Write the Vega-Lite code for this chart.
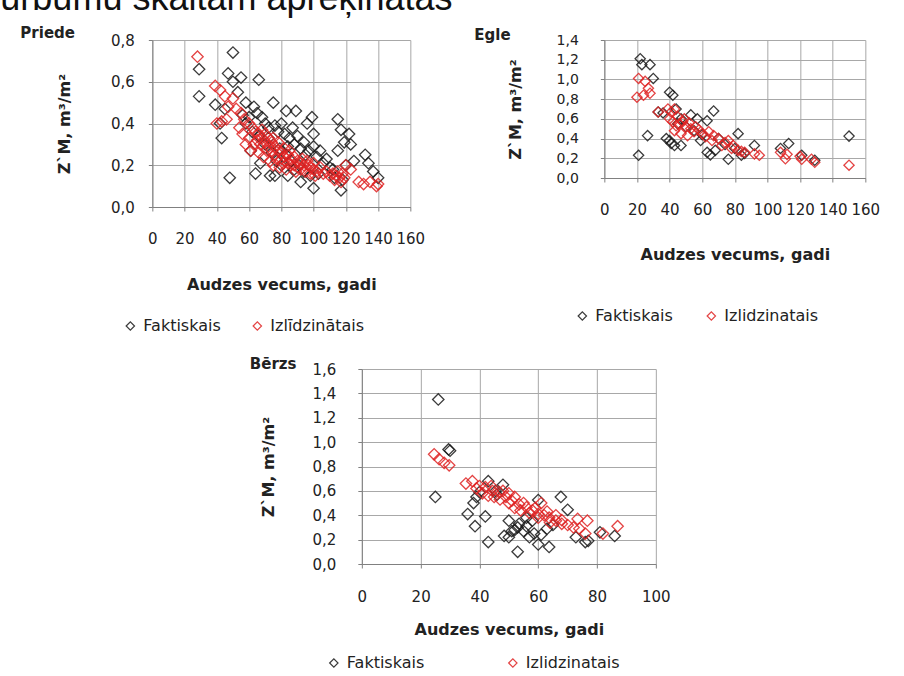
{
  "$schema": "https://vega.github.io/schema/vega-lite/v6.json",
  "background": "white",
  "padding": {"left": 0, "top": -19, "right": 0, "bottom": 0},
  "title": {
    "text": "urbumu skaitam aprēķinātās",
    "anchor": "start",
    "frame": "bounds",
    "dx": -20,
    "offset": -20,
    "baseline": "alphabetic",
    "font": "Liberation Sans",
    "fontSize": 36,
    "fontWeight": "normal",
    "color": "#111"
  },
  "config": {
    "font": "DejaVu Sans",
    "view": {"stroke": null},
    "axis": {
      "domainColor": "#808080",
      "tickColor": "#808080",
      "gridColor": "#a8a8a8",
      "gridWidth": 1,
      "tickSize": 4,
      "labelFont": "DejaVu Sans",
      "labelFontSize": 15,
      "labelColor": "#222",
      "labelFlush": false,
      "labelOverlap": false,
      "titleFont": "DejaVu Sans",
      "titleFontSize": 16,
      "titleFontWeight": "bold",
      "titleColor": "#222"
    },
    "legend": {
      "orient": "none",
      "direction": "horizontal",
      "labelFont": "DejaVu Sans",
      "labelFontSize": 16,
      "labelColor": "#222",
      "labelOffset": 5,
      "symbolType": "diamond",
      "symbolSize": 70,
      "symbolStrokeWidth": 1.2
    },
    "title": {
      "font": "DejaVu Sans",
      "fontSize": 15,
      "fontWeight": "bold",
      "color": "#222",
      "anchor": "start",
      "frame": "group",
      "baseline": "alphabetic"
    }
  },
  "datasets": {
    "priede": [
      {"vecums": 29, "zm": 0.66, "veids": "Faktiskais"}, {"vecums": 29, "zm": 0.53, "veids": "Faktiskais"},
      {"vecums": 50, "zm": 0.74, "veids": "Faktiskais"}, {"vecums": 47, "zm": 0.64, "veids": "Faktiskais"},
      {"vecums": 50, "zm": 0.60, "veids": "Faktiskais"}, {"vecums": 55, "zm": 0.62, "veids": "Faktiskais"},
      {"vecums": 66, "zm": 0.61, "veids": "Faktiskais"}, {"vecums": 39, "zm": 0.49, "veids": "Faktiskais"},
      {"vecums": 42, "zm": 0.40, "veids": "Faktiskais"}, {"vecums": 43, "zm": 0.33, "veids": "Faktiskais"},
      {"vecums": 48, "zm": 0.14, "veids": "Faktiskais"}, {"vecums": 58, "zm": 0.50, "veids": "Faktiskais"},
      {"vecums": 63, "zm": 0.48, "veids": "Faktiskais"}, {"vecums": 75, "zm": 0.50, "veids": "Faktiskais"},
      {"vecums": 83, "zm": 0.46, "veids": "Faktiskais"}, {"vecums": 89, "zm": 0.46, "veids": "Faktiskais"},
      {"vecums": 99, "zm": 0.43, "veids": "Faktiskais"}, {"vecums": 96, "zm": 0.40, "veids": "Faktiskais"},
      {"vecums": 115, "zm": 0.42, "veids": "Faktiskais"}, {"vecums": 117, "zm": 0.37, "veids": "Faktiskais"},
      {"vecums": 122, "zm": 0.35, "veids": "Faktiskais"}, {"vecums": 100, "zm": 0.35, "veids": "Faktiskais"},
      {"vecums": 119, "zm": 0.31, "veids": "Faktiskais"}, {"vecums": 123, "zm": 0.30, "veids": "Faktiskais"},
      {"vecums": 115, "zm": 0.27, "veids": "Faktiskais"}, {"vecums": 132, "zm": 0.25, "veids": "Faktiskais"},
      {"vecums": 134, "zm": 0.21, "veids": "Faktiskais"}, {"vecums": 137, "zm": 0.17, "veids": "Faktiskais"},
      {"vecums": 140, "zm": 0.14, "veids": "Faktiskais"}, {"vecums": 100, "zm": 0.09, "veids": "Faktiskais"},
      {"vecums": 117, "zm": 0.08, "veids": "Faktiskais"}, {"vecums": 84, "zm": 0.15, "veids": "Faktiskais"},
      {"vecums": 92, "zm": 0.12, "veids": "Faktiskais"}, {"vecums": 64, "zm": 0.16, "veids": "Faktiskais"},
      {"vecums": 67, "zm": 0.21, "veids": "Faktiskais"}, {"vecums": 73, "zm": 0.15, "veids": "Faktiskais"},
      {"vecums": 76, "zm": 0.15, "veids": "Faktiskais"}, {"vecums": 61, "zm": 0.27, "veids": "Faktiskais"},
      {"vecums": 65, "zm": 0.45, "veids": "Faktiskais"}, {"vecums": 68, "zm": 0.43, "veids": "Faktiskais"},
      {"vecums": 70, "zm": 0.40, "veids": "Faktiskais"}, {"vecums": 72, "zm": 0.38, "veids": "Faktiskais"},
      {"vecums": 76, "zm": 0.39, "veids": "Faktiskais"}, {"vecums": 78, "zm": 0.36, "veids": "Faktiskais"},
      {"vecums": 80, "zm": 0.40, "veids": "Faktiskais"}, {"vecums": 82, "zm": 0.35, "veids": "Faktiskais"},
      {"vecums": 85, "zm": 0.33, "veids": "Faktiskais"}, {"vecums": 87, "zm": 0.38, "veids": "Faktiskais"},
      {"vecums": 88, "zm": 0.30, "veids": "Faktiskais"}, {"vecums": 90, "zm": 0.34, "veids": "Faktiskais"},
      {"vecums": 92, "zm": 0.28, "veids": "Faktiskais"}, {"vecums": 94, "zm": 0.31, "veids": "Faktiskais"},
      {"vecums": 95, "zm": 0.25, "veids": "Faktiskais"}, {"vecums": 97, "zm": 0.27, "veids": "Faktiskais"},
      {"vecums": 100, "zm": 0.29, "veids": "Faktiskais"}, {"vecums": 102, "zm": 0.24, "veids": "Faktiskais"},
      {"vecums": 104, "zm": 0.27, "veids": "Faktiskais"}, {"vecums": 106, "zm": 0.21, "veids": "Faktiskais"},
      {"vecums": 108, "zm": 0.23, "veids": "Faktiskais"}, {"vecums": 110, "zm": 0.19, "veids": "Faktiskais"},
      {"vecums": 112, "zm": 0.18, "veids": "Faktiskais"}, {"vecums": 70, "zm": 0.30, "veids": "Faktiskais"},
      {"vecums": 74, "zm": 0.26, "veids": "Faktiskais"}, {"vecums": 77, "zm": 0.22, "veids": "Faktiskais"},
      {"vecums": 80, "zm": 0.20, "veids": "Faktiskais"}, {"vecums": 83, "zm": 0.25, "veids": "Faktiskais"},
      {"vecums": 86, "zm": 0.22, "veids": "Faktiskais"}, {"vecums": 88, "zm": 0.18, "veids": "Faktiskais"},
      {"vecums": 91, "zm": 0.20, "veids": "Faktiskais"}, {"vecums": 94, "zm": 0.17, "veids": "Faktiskais"},
      {"vecums": 98, "zm": 0.15, "veids": "Faktiskais"}, {"vecums": 103, "zm": 0.16, "veids": "Faktiskais"},
      {"vecums": 66, "zm": 0.34, "veids": "Faktiskais"}, {"vecums": 62, "zm": 0.36, "veids": "Faktiskais"},
      {"vecums": 58, "zm": 0.40, "veids": "Faktiskais"}, {"vecums": 56, "zm": 0.44, "veids": "Faktiskais"},
      {"vecums": 60, "zm": 0.43, "veids": "Faktiskais"}, {"vecums": 53, "zm": 0.55, "veids": "Faktiskais"},
      {"vecums": 45, "zm": 0.47, "veids": "Faktiskais"}, {"vecums": 72, "zm": 0.33, "veids": "Faktiskais"},
      {"vecums": 79, "zm": 0.28, "veids": "Faktiskais"}, {"vecums": 84, "zm": 0.29, "veids": "Faktiskais"},
      {"vecums": 113, "zm": 0.14, "veids": "Faktiskais"}, {"vecums": 118, "zm": 0.13, "veids": "Faktiskais"},
      {"vecums": 120, "zm": 0.20, "veids": "Faktiskais"}, {"vecums": 125, "zm": 0.22, "veids": "Faktiskais"},
      {"vecums": 28, "zm": 0.72, "veids": "Izlīdzinātais"}, {"vecums": 39, "zm": 0.58, "veids": "Izlīdzinātais"},
      {"vecums": 42, "zm": 0.56, "veids": "Izlīdzinātais"}, {"vecums": 45, "zm": 0.53, "veids": "Izlīdzinātais"},
      {"vecums": 40, "zm": 0.40, "veids": "Izlīdzinātais"}, {"vecums": 43, "zm": 0.41, "veids": "Izlīdzinātais"},
      {"vecums": 46, "zm": 0.42, "veids": "Izlīdzinātais"}, {"vecums": 47, "zm": 0.48, "veids": "Izlīdzinātais"},
      {"vecums": 50, "zm": 0.52, "veids": "Izlīdzinātais"}, {"vecums": 52, "zm": 0.47, "veids": "Izlīdzinātais"},
      {"vecums": 55, "zm": 0.45, "veids": "Izlīdzinātais"}, {"vecums": 57, "zm": 0.42, "veids": "Izlīdzinātais"},
      {"vecums": 60, "zm": 0.40, "veids": "Izlīdzinātais"}, {"vecums": 62, "zm": 0.38, "veids": "Izlīdzinātais"},
      {"vecums": 64, "zm": 0.36, "veids": "Izlīdzinātais"}, {"vecums": 66, "zm": 0.35, "veids": "Izlīdzinātais"},
      {"vecums": 61, "zm": 0.27, "veids": "Izlīdzinātais"}, {"vecums": 63, "zm": 0.30, "veids": "Izlīdzinātais"},
      {"vecums": 65, "zm": 0.32, "veids": "Izlīdzinātais"}, {"vecums": 67, "zm": 0.30, "veids": "Izlīdzinātais"},
      {"vecums": 68, "zm": 0.33, "veids": "Izlīdzinātais"}, {"vecums": 70, "zm": 0.31, "veids": "Izlīdzinātais"},
      {"vecums": 70, "zm": 0.35, "veids": "Izlīdzinātais"}, {"vecums": 72, "zm": 0.29, "veids": "Izlīdzinātais"},
      {"vecums": 72, "zm": 0.33, "veids": "Izlīdzinātais"}, {"vecums": 74, "zm": 0.31, "veids": "Izlīdzinātais"},
      {"vecums": 74, "zm": 0.27, "veids": "Izlīdzinātais"}, {"vecums": 76, "zm": 0.29, "veids": "Izlīdzinātais"},
      {"vecums": 76, "zm": 0.25, "veids": "Izlīdzinātais"}, {"vecums": 78, "zm": 0.27, "veids": "Izlīdzinātais"},
      {"vecums": 78, "zm": 0.31, "veids": "Izlīdzinātais"}, {"vecums": 80, "zm": 0.26, "veids": "Izlīdzinātais"},
      {"vecums": 80, "zm": 0.23, "veids": "Izlīdzinātais"}, {"vecums": 82, "zm": 0.28, "veids": "Izlīdzinātais"},
      {"vecums": 82, "zm": 0.24, "veids": "Izlīdzinātais"}, {"vecums": 84, "zm": 0.25, "veids": "Izlīdzinātais"},
      {"vecums": 84, "zm": 0.21, "veids": "Izlīdzinātais"}, {"vecums": 86, "zm": 0.23, "veids": "Izlīdzinātais"},
      {"vecums": 86, "zm": 0.20, "veids": "Izlīdzinātais"}, {"vecums": 88, "zm": 0.24, "veids": "Izlīdzinātais"},
      {"vecums": 88, "zm": 0.20, "veids": "Izlīdzinātais"}, {"vecums": 90, "zm": 0.22, "veids": "Izlīdzinātais"},
      {"vecums": 90, "zm": 0.19, "veids": "Izlīdzinātais"}, {"vecums": 92, "zm": 0.21, "veids": "Izlīdzinātais"},
      {"vecums": 92, "zm": 0.18, "veids": "Izlīdzinātais"}, {"vecums": 94, "zm": 0.20, "veids": "Izlīdzinātais"},
      {"vecums": 95, "zm": 0.17, "veids": "Izlīdzinātais"}, {"vecums": 96, "zm": 0.22, "veids": "Izlīdzinātais"},
      {"vecums": 98, "zm": 0.19, "veids": "Izlīdzinātais"}, {"vecums": 98, "zm": 0.16, "veids": "Izlīdzinātais"},
      {"vecums": 100, "zm": 0.18, "veids": "Izlīdzinātais"}, {"vecums": 100, "zm": 0.21, "veids": "Izlīdzinātais"},
      {"vecums": 102, "zm": 0.17, "veids": "Izlīdzinātais"}, {"vecums": 104, "zm": 0.19, "veids": "Izlīdzinātais"},
      {"vecums": 106, "zm": 0.16, "veids": "Izlīdzinātais"}, {"vecums": 108, "zm": 0.17, "veids": "Izlīdzinātais"},
      {"vecums": 110, "zm": 0.15, "veids": "Izlīdzinātais"}, {"vecums": 112, "zm": 0.16, "veids": "Izlīdzinātais"},
      {"vecums": 113, "zm": 0.13, "veids": "Izlīdzinātais"}, {"vecums": 114, "zm": 0.15, "veids": "Izlīdzinātais"},
      {"vecums": 115, "zm": 0.17, "veids": "Izlīdzinātais"}, {"vecums": 116, "zm": 0.14, "veids": "Izlīdzinātais"},
      {"vecums": 117, "zm": 0.12, "veids": "Izlīdzinātais"}, {"vecums": 118, "zm": 0.16, "veids": "Izlīdzinātais"},
      {"vecums": 119, "zm": 0.14, "veids": "Izlīdzinātais"}, {"vecums": 120, "zm": 0.20, "veids": "Izlīdzinātais"},
      {"vecums": 123, "zm": 0.18, "veids": "Izlīdzinātais"}, {"vecums": 128, "zm": 0.12, "veids": "Izlīdzinātais"},
      {"vecums": 131, "zm": 0.11, "veids": "Izlīdzinātais"}, {"vecums": 135, "zm": 0.12, "veids": "Izlīdzinātais"},
      {"vecums": 139, "zm": 0.10, "veids": "Izlīdzinātais"}, {"vecums": 140, "zm": 0.11, "veids": "Izlīdzinātais"},
      {"vecums": 58, "zm": 0.30, "veids": "Izlīdzinātais"}, {"vecums": 56, "zm": 0.35, "veids": "Izlīdzinātais"},
      {"vecums": 60, "zm": 0.33, "veids": "Izlīdzinātais"}, {"vecums": 54, "zm": 0.38, "veids": "Izlīdzinātais"},
      {"vecums": 66, "zm": 0.26, "veids": "Izlīdzinātais"}, {"vecums": 69, "zm": 0.24, "veids": "Izlīdzinātais"},
      {"vecums": 73, "zm": 0.22, "veids": "Izlīdzinātais"}, {"vecums": 75, "zm": 0.20, "veids": "Izlīdzinātais"},
      {"vecums": 79, "zm": 0.19, "veids": "Izlīdzinātais"}, {"vecums": 83, "zm": 0.18, "veids": "Izlīdzinātais"},
      {"vecums": 71, "zm": 0.27, "veids": "Izlīdzinātais"}, {"vecums": 77, "zm": 0.23, "veids": "Izlīdzinātais"},
      {"vecums": 81, "zm": 0.21, "veids": "Izlīdzinātais"}, {"vecums": 85, "zm": 0.27, "veids": "Izlīdzinātais"},
      {"vecums": 89, "zm": 0.17, "veids": "Izlīdzinātais"}, {"vecums": 93, "zm": 0.23, "veids": "Izlīdzinātais"},
      {"vecums": 97, "zm": 0.20, "veids": "Izlīdzinātais"}, {"vecums": 101, "zm": 0.15, "veids": "Izlīdzinātais"},
      {"vecums": 68, "zm": 0.37, "veids": "Izlīdzinātais"}, {"vecums": 75, "zm": 0.33, "veids": "Izlīdzinātais"}
    ],
    "egle": [
      {"vecums": 22, "zm": 1.21, "veids": "Faktiskais"}, {"vecums": 23, "zm": 1.15, "veids": "Faktiskais"},
      {"vecums": 28, "zm": 1.15, "veids": "Faktiskais"}, {"vecums": 30, "zm": 1.01, "veids": "Faktiskais"},
      {"vecums": 21, "zm": 0.23, "veids": "Faktiskais"}, {"vecums": 26.5, "zm": 0.43, "veids": "Faktiskais"},
      {"vecums": 40, "zm": 0.87, "veids": "Faktiskais"}, {"vecums": 42, "zm": 0.84, "veids": "Faktiskais"},
      {"vecums": 38, "zm": 0.40, "veids": "Faktiskais"}, {"vecums": 40, "zm": 0.38, "veids": "Faktiskais"},
      {"vecums": 41, "zm": 0.35, "veids": "Faktiskais"}, {"vecums": 43, "zm": 0.33, "veids": "Faktiskais"},
      {"vecums": 47, "zm": 0.33, "veids": "Faktiskais"}, {"vecums": 33, "zm": 0.67, "veids": "Faktiskais"},
      {"vecums": 47, "zm": 0.60, "veids": "Faktiskais"}, {"vecums": 53, "zm": 0.64, "veids": "Faktiskais"},
      {"vecums": 63, "zm": 0.58, "veids": "Faktiskais"}, {"vecums": 67, "zm": 0.68, "veids": "Faktiskais"},
      {"vecums": 59, "zm": 0.38, "veids": "Faktiskais"}, {"vecums": 63, "zm": 0.26, "veids": "Faktiskais"},
      {"vecums": 65, "zm": 0.235, "veids": "Faktiskais"}, {"vecums": 68, "zm": 0.28, "veids": "Faktiskais"},
      {"vecums": 76, "zm": 0.19, "veids": "Faktiskais"}, {"vecums": 82, "zm": 0.45, "veids": "Faktiskais"},
      {"vecums": 84, "zm": 0.23, "veids": "Faktiskais"}, {"vecums": 92, "zm": 0.33, "veids": "Faktiskais"},
      {"vecums": 108, "zm": 0.30, "veids": "Faktiskais"}, {"vecums": 113, "zm": 0.35, "veids": "Faktiskais"},
      {"vecums": 121, "zm": 0.23, "veids": "Faktiskais"}, {"vecums": 129, "zm": 0.18, "veids": "Faktiskais"},
      {"vecums": 150, "zm": 0.425, "veids": "Faktiskais"}, {"vecums": 45, "zm": 0.55, "veids": "Faktiskais"},
      {"vecums": 50, "zm": 0.52, "veids": "Faktiskais"}, {"vecums": 55, "zm": 0.48, "veids": "Faktiskais"},
      {"vecums": 44, "zm": 0.70, "veids": "Faktiskais"}, {"vecums": 36, "zm": 0.66, "veids": "Faktiskais"},
      {"vecums": 57, "zm": 0.60, "veids": "Faktiskais"}, {"vecums": 70, "zm": 0.40, "veids": "Faktiskais"},
      {"vecums": 80, "zm": 0.30, "veids": "Faktiskais"}, {"vecums": 86, "zm": 0.25, "veids": "Faktiskais"},
      {"vecums": 74, "zm": 0.34, "veids": "Faktiskais"}, {"vecums": 60, "zm": 0.44, "veids": "Faktiskais"},
      {"vecums": 20, "zm": 0.82, "veids": "Izlidzinatais"}, {"vecums": 21, "zm": 1.01, "veids": "Izlidzinatais"},
      {"vecums": 25, "zm": 0.98, "veids": "Izlidzinatais"}, {"vecums": 27, "zm": 0.91, "veids": "Izlidzinatais"},
      {"vecums": 28, "zm": 0.86, "veids": "Izlidzinatais"}, {"vecums": 24, "zm": 0.84, "veids": "Izlidzinatais"},
      {"vecums": 33, "zm": 0.67, "veids": "Izlidzinatais"}, {"vecums": 39, "zm": 0.70, "veids": "Izlidzinatais"},
      {"vecums": 41, "zm": 0.67, "veids": "Izlidzinatais"}, {"vecums": 43, "zm": 0.70, "veids": "Izlidzinatais"},
      {"vecums": 40, "zm": 0.60, "veids": "Izlidzinatais"}, {"vecums": 42, "zm": 0.57, "veids": "Izlidzinatais"},
      {"vecums": 44, "zm": 0.53, "veids": "Izlidzinatais"}, {"vecums": 46, "zm": 0.55, "veids": "Izlidzinatais"},
      {"vecums": 48, "zm": 0.57, "veids": "Izlidzinatais"}, {"vecums": 50, "zm": 0.52, "veids": "Izlidzinatais"},
      {"vecums": 53, "zm": 0.50, "veids": "Izlidzinatais"}, {"vecums": 55, "zm": 0.47, "veids": "Izlidzinatais"},
      {"vecums": 60, "zm": 0.45, "veids": "Izlidzinatais"}, {"vecums": 64, "zm": 0.47, "veids": "Izlidzinatais"},
      {"vecums": 67, "zm": 0.43, "veids": "Izlidzinatais"}, {"vecums": 70, "zm": 0.40, "veids": "Izlidzinatais"},
      {"vecums": 74, "zm": 0.36, "veids": "Izlidzinatais"}, {"vecums": 76, "zm": 0.38, "veids": "Izlidzinatais"},
      {"vecums": 79, "zm": 0.33, "veids": "Izlidzinatais"}, {"vecums": 82, "zm": 0.28, "veids": "Izlidzinatais"},
      {"vecums": 86, "zm": 0.26, "veids": "Izlidzinatais"}, {"vecums": 92, "zm": 0.245, "veids": "Izlidzinatais"},
      {"vecums": 108, "zm": 0.26, "veids": "Izlidzinatais"}, {"vecums": 111, "zm": 0.195, "veids": "Izlidzinatais"},
      {"vecums": 121, "zm": 0.19, "veids": "Izlidzinatais"}, {"vecums": 129, "zm": 0.16, "veids": "Izlidzinatais"},
      {"vecums": 150, "zm": 0.13, "veids": "Izlidzinatais"}, {"vecums": 43, "zm": 0.48, "veids": "Izlidzinatais"},
      {"vecums": 47, "zm": 0.45, "veids": "Izlidzinatais"}, {"vecums": 51, "zm": 0.43, "veids": "Izlidzinatais"},
      {"vecums": 56, "zm": 0.52, "veids": "Izlidzinatais"}, {"vecums": 45, "zm": 0.62, "veids": "Izlidzinatais"},
      {"vecums": 49, "zm": 0.60, "veids": "Izlidzinatais"}, {"vecums": 52, "zm": 0.56, "veids": "Izlidzinatais"},
      {"vecums": 58, "zm": 0.49, "veids": "Izlidzinatais"}, {"vecums": 62, "zm": 0.42, "veids": "Izlidzinatais"},
      {"vecums": 66, "zm": 0.38, "veids": "Izlidzinatais"}, {"vecums": 72, "zm": 0.33, "veids": "Izlidzinatais"},
      {"vecums": 78, "zm": 0.30, "veids": "Izlidzinatais"}, {"vecums": 84, "zm": 0.27, "veids": "Izlidzinatais"},
      {"vecums": 95, "zm": 0.23, "veids": "Izlidzinatais"}, {"vecums": 112, "zm": 0.24, "veids": "Izlidzinatais"},
      {"vecums": 120, "zm": 0.22, "veids": "Izlidzinatais"}, {"vecums": 127, "zm": 0.19, "veids": "Izlidzinatais"}
    ],
    "berzs": [
      {"vecums": 26, "zm": 1.35, "veids": "Faktiskais"}, {"vecums": 29.5, "zm": 0.94, "veids": "Faktiskais"},
      {"vecums": 30, "zm": 0.93, "veids": "Faktiskais"}, {"vecums": 25, "zm": 0.55, "veids": "Faktiskais"},
      {"vecums": 36, "zm": 0.41, "veids": "Faktiskais"}, {"vecums": 38.5, "zm": 0.31, "veids": "Faktiskais"},
      {"vecums": 38, "zm": 0.50, "veids": "Faktiskais"}, {"vecums": 42, "zm": 0.39, "veids": "Faktiskais"},
      {"vecums": 43, "zm": 0.18, "veids": "Faktiskais"}, {"vecums": 43, "zm": 0.68, "veids": "Faktiskais"},
      {"vecums": 48, "zm": 0.65, "veids": "Faktiskais"}, {"vecums": 48.4, "zm": 0.23, "veids": "Faktiskais"},
      {"vecums": 50, "zm": 0.22, "veids": "Faktiskais"}, {"vecums": 51, "zm": 0.27, "veids": "Faktiskais"},
      {"vecums": 53, "zm": 0.30, "veids": "Faktiskais"}, {"vecums": 53.5, "zm": 0.33, "veids": "Faktiskais"},
      {"vecums": 55, "zm": 0.27, "veids": "Faktiskais"}, {"vecums": 53, "zm": 0.10, "veids": "Faktiskais"},
      {"vecums": 56, "zm": 0.31, "veids": "Faktiskais"}, {"vecums": 58.6, "zm": 0.25, "veids": "Faktiskais"},
      {"vecums": 60, "zm": 0.16, "veids": "Faktiskais"}, {"vecums": 63.7, "zm": 0.14, "veids": "Faktiskais"},
      {"vecums": 63, "zm": 0.29, "veids": "Faktiskais"}, {"vecums": 60, "zm": 0.525, "veids": "Faktiskais"},
      {"vecums": 67.7, "zm": 0.55, "veids": "Faktiskais"}, {"vecums": 70, "zm": 0.445, "veids": "Faktiskais"},
      {"vecums": 72.8, "zm": 0.22, "veids": "Faktiskais"}, {"vecums": 76, "zm": 0.18, "veids": "Faktiskais"},
      {"vecums": 81, "zm": 0.26, "veids": "Faktiskais"}, {"vecums": 86, "zm": 0.23, "veids": "Faktiskais"},
      {"vecums": 40, "zm": 0.59, "veids": "Faktiskais"}, {"vecums": 45.5, "zm": 0.60, "veids": "Faktiskais"},
      {"vecums": 50, "zm": 0.355, "veids": "Faktiskais"}, {"vecums": 56, "zm": 0.38, "veids": "Faktiskais"},
      {"vecums": 58, "zm": 0.355, "veids": "Faktiskais"}, {"vecums": 52, "zm": 0.28, "veids": "Faktiskais"},
      {"vecums": 57, "zm": 0.22, "veids": "Faktiskais"}, {"vecums": 61, "zm": 0.24, "veids": "Faktiskais"},
      {"vecums": 65, "zm": 0.32, "veids": "Faktiskais"}, {"vecums": 39, "zm": 0.55, "veids": "Faktiskais"},
      {"vecums": 46, "zm": 0.57, "veids": "Faktiskais"}, {"vecums": 77, "zm": 0.19, "veids": "Faktiskais"},
      {"vecums": 24.6, "zm": 0.90, "veids": "Izlidzinatais"}, {"vecums": 26.3, "zm": 0.86, "veids": "Izlidzinatais"},
      {"vecums": 28, "zm": 0.83, "veids": "Izlidzinatais"}, {"vecums": 29.7, "zm": 0.81, "veids": "Izlidzinatais"},
      {"vecums": 35.4, "zm": 0.66, "veids": "Izlidzinatais"}, {"vecums": 37.6, "zm": 0.68, "veids": "Izlidzinatais"},
      {"vecums": 40, "zm": 0.64, "veids": "Izlidzinatais"}, {"vecums": 42, "zm": 0.63, "veids": "Izlidzinatais"},
      {"vecums": 44.4, "zm": 0.60, "veids": "Izlidzinatais"}, {"vecums": 46.7, "zm": 0.59, "veids": "Izlidzinatais"},
      {"vecums": 49, "zm": 0.55, "veids": "Izlidzinatais"}, {"vecums": 51, "zm": 0.52, "veids": "Izlidzinatais"},
      {"vecums": 53.5, "zm": 0.49, "veids": "Izlidzinatais"}, {"vecums": 56, "zm": 0.465, "veids": "Izlidzinatais"},
      {"vecums": 58, "zm": 0.44, "veids": "Izlidzinatais"}, {"vecums": 60, "zm": 0.41, "veids": "Izlidzinatais"},
      {"vecums": 62, "zm": 0.40, "veids": "Izlidzinatais"}, {"vecums": 63.7, "zm": 0.38, "veids": "Izlidzinatais"},
      {"vecums": 66, "zm": 0.355, "veids": "Izlidzinatais"}, {"vecums": 68, "zm": 0.33, "veids": "Izlidzinatais"},
      {"vecums": 73.4, "zm": 0.37, "veids": "Izlidzinatais"}, {"vecums": 76.7, "zm": 0.355, "veids": "Izlidzinatais"},
      {"vecums": 74, "zm": 0.29, "veids": "Izlidzinatais"}, {"vecums": 76, "zm": 0.25, "veids": "Izlidzinatais"},
      {"vecums": 82, "zm": 0.25, "veids": "Izlidzinatais"}, {"vecums": 87, "zm": 0.31, "veids": "Izlidzinatais"},
      {"vecums": 41, "zm": 0.58, "veids": "Izlidzinatais"}, {"vecums": 43, "zm": 0.56, "veids": "Izlidzinatais"},
      {"vecums": 45, "zm": 0.55, "veids": "Izlidzinatais"}, {"vecums": 47, "zm": 0.53, "veids": "Izlidzinatais"},
      {"vecums": 48, "zm": 0.60, "veids": "Izlidzinatais"}, {"vecums": 50, "zm": 0.50, "veids": "Izlidzinatais"},
      {"vecums": 52, "zm": 0.46, "veids": "Izlidzinatais"}, {"vecums": 52, "zm": 0.55, "veids": "Izlidzinatais"},
      {"vecums": 54, "zm": 0.44, "veids": "Izlidzinatais"}, {"vecums": 55, "zm": 0.50, "veids": "Izlidzinatais"},
      {"vecums": 57, "zm": 0.42, "veids": "Izlidzinatais"}, {"vecums": 59, "zm": 0.46, "veids": "Izlidzinatais"},
      {"vecums": 60, "zm": 0.38, "veids": "Izlidzinatais"}, {"vecums": 61, "zm": 0.50, "veids": "Izlidzinatais"},
      {"vecums": 63, "zm": 0.43, "veids": "Izlidzinatais"}, {"vecums": 64, "zm": 0.34, "veids": "Izlidzinatais"},
      {"vecums": 66, "zm": 0.40, "veids": "Izlidzinatais"}, {"vecums": 68, "zm": 0.36, "veids": "Izlidzinatais"},
      {"vecums": 70, "zm": 0.32, "veids": "Izlidzinatais"}, {"vecums": 72, "zm": 0.30, "veids": "Izlidzinatais"},
      {"vecums": 39, "zm": 0.62, "veids": "Izlidzinatais"}, {"vecums": 44, "zm": 0.64, "veids": "Izlidzinatais"},
      {"vecums": 50, "zm": 0.58, "veids": "Izlidzinatais"}
    ]
  },
  "vconcat": [
    {
      "hconcat": [
        {
          "title": {"text": "Priede", "dx": -132, "offset": -8},
          "width": 258,
          "height": 167,
          "data": {"name": "priede"},
          "mark": {"type": "point", "shape": "diamond", "filled": false, "size": 130, "strokeWidth": 1.3, "opacity": 0.85},
          "encoding": {
            "x": {
              "field": "vecums", "type": "quantitative",
              "scale": {"domain": [0, 160], "nice": false},
              "axis": {"values": [0, 20, 40, 60, 80, 100, 120, 140, 160], "title": "Audzes vecums, gadi", "labelPadding": 20, "titlePadding": 30}
            },
            "y": {
              "field": "zm", "type": "quantitative",
              "scale": {"domain": [0, 0.8], "nice": false},
              "axis": {"values": [0, 0.2, 0.4, 0.6, 0.8], "labelExpr": "replace(format(datum.value, '.1f'), '.', ',')", "title": "Z`M, m³/m²", "labelPadding": 14, "titlePadding": 38}
            },
            "color": {
              "field": "veids", "type": "nominal",
              "scale": {"domain": ["Faktiskais", "Izlīdzinātais"], "range": ["#1a1a1a", "#e02424"]},
              "legend": {"title": null, "legendX": -30, "legendY": 278, "columnPadding": 28}
            }
          }
        },
        {
          "title": {"text": "Egle", "dx": -130, "offset": -10},
          "width": 261,
          "height": 138,
          "data": {"name": "egle"},
          "mark": {"type": "point", "shape": "diamond", "filled": false, "size": 105, "strokeWidth": 1.3, "opacity": 0.85},
          "encoding": {
            "x": {
              "field": "vecums", "type": "quantitative",
              "scale": {"domain": [0, 160], "nice": false},
              "axis": {"values": [0, 20, 40, 60, 80, 100, 120, 140, 160], "title": "Audzes vecums, gadi", "labelPadding": 20, "titlePadding": 29}
            },
            "y": {
              "field": "zm", "type": "quantitative",
              "scale": {"domain": [0, 1.4], "nice": false},
              "axis": {"values": [0, 0.2, 0.4, 0.6, 0.8, 1.0, 1.2, 1.4], "labelExpr": "replace(format(datum.value, '.1f'), '.', ',')", "title": "Z`M, m³/m²", "labelFontSize": 14, "labelPadding": 22, "titlePadding": 33}
            },
            "color": {
              "field": "veids", "type": "nominal",
              "scale": {"domain": ["Faktiskais", "Izlidzinatais"], "range": ["#1a1a1a", "#e02424"]},
              "legend": {"title": null, "legendX": -30, "legendY": 268, "columnPadding": 30}
            }
          }
        }
      ],
      "spacing": 49,
      "resolve": {"scale": {"color": "independent"}, "legend": {"color": "independent"}}
    },
    {
      "title": {"text": "Bērzs", "dx": -112, "offset": -10},
      "width": 294,
      "height": 195,
      "data": {"name": "berzs"},
      "mark": {"type": "point", "shape": "diamond", "filled": false, "size": 130, "strokeWidth": 1.3, "opacity": 0.85},
      "encoding": {
        "x": {
          "field": "vecums", "type": "quantitative",
          "scale": {"domain": [0, 100], "nice": false},
          "axis": {"values": [0, 20, 40, 60, 80, 100], "title": "Audzes vecums, gadi", "labelPadding": 21, "titlePadding": 17}
        },
        "y": {
          "field": "zm", "type": "quantitative",
          "scale": {"domain": [0, 1.6], "nice": false},
          "axis": {"values": [0, 0.2, 0.4, 0.6, 0.8, 1.0, 1.2, 1.4, 1.6], "labelExpr": "replace(format(datum.value, '.1f'), '.', ',')", "title": "Z`M, m³/m²", "labelPadding": 22, "titlePadding": 35}
        },
        "color": {
          "field": "veids", "type": "nominal",
          "scale": {"domain": ["Faktiskais", "Izlidzinatais"], "range": ["#1a1a1a", "#e02424"]},
          "legend": {"title": null, "legendX": -36, "legendY": 286, "columnPadding": 80}
        }
      }
    }
  ],
  "spacing": 23,
  "center": true,
  "resolve": {"scale": {"color": "independent"}, "legend": {"color": "independent"}}
}
